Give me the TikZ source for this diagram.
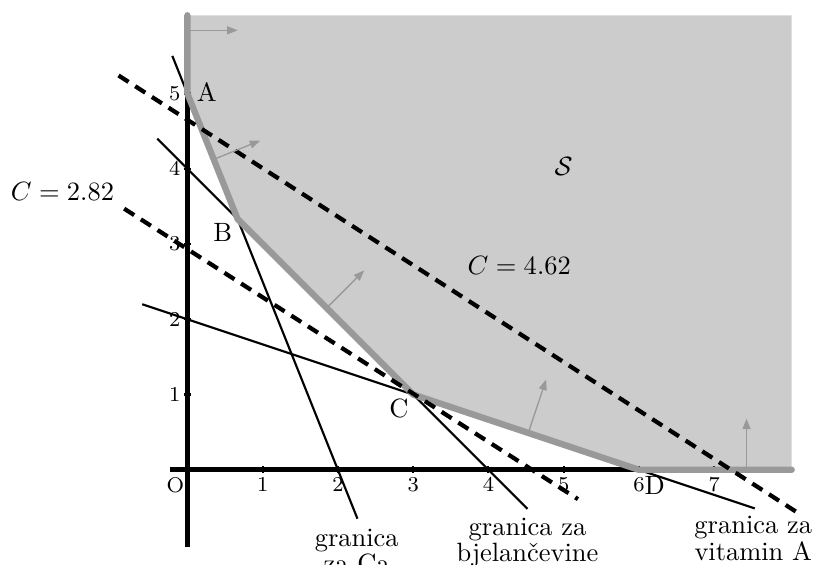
\documentclass[tikz,border=0pt]{standalone}
\usepackage{amsmath}
\usetikzlibrary{arrows.meta, positioning, calc}
\tikzset{
    os/.style={line width=1.9pt},
    pravac/.style={line width=0.8pt},
    rub/.style={draw=black!40, line width=2.4pt, line cap=round, line join=round},
    razina/.style={line width=1.6pt, dash pattern=on 4.5pt off 3pt},
    normala/.style={-{Triangle[length=4pt, width=3pt]}, draw=black!40, fill=black!40, line width=0.5pt},
    oznaka/.style={font=\footnotesize, inner sep=1pt},
    opis/.style={align=center, font=\fontsize{10}{8.7}\selectfont, inner sep=0pt, anchor=north}
}

\begin{document}
\begin{tikzpicture}
    \useasboundingbox (-2.49,-1.265) rectangle (8.34,6.243);

    \coordinate (O) at (0,0);
    \coordinate (A) at (0,5);
    \coordinate (B) at (2/3,10/3);
    \coordinate (C) at (3,1);
    \coordinate (D) at (6,0);
    \coordinate (vrh) at (0,6.04);
    \coordinate (desno) at (8.03,0);
    \coordinate (xlijevo) at (-0.23,0);
    \coordinate (ydolje) at (0,-1.03);

    \fill[black!20] (vrh) -- (A) -- (B) -- (C) -- (D) -- (desno) |- (vrh) -- cycle;

    \coordinate (ca1) at (-0.2,5.5);
    \coordinate (ca2) at (2.26,-0.65);
    \coordinate (bj1) at (-0.4,4.4);
    \coordinate (bj2) at (4.52,-0.52);
    \coordinate (va1) at (-0.6,2.2);
    \coordinate (va2) at (7.54,-0.513);

    \draw[pravac] (ca1) -- (ca2);
    \draw[pravac] (bj1) -- (bj2);
    \draw[pravac] (va1) -- (va2);

    \draw[os] (xlijevo) -- (desno);
    \draw[os] (ydolje) -- (vrh);

    \foreach \i in {1,...,7} {
        \draw[pravac] (\i,-0.045) -- (\i,0.045);
        \node[oznaka, anchor=north] (x\i) at (\i,-0.06) {\i};
    }
    \foreach \j in {1,...,5} {
        \draw[pravac] (-0.05,\j) -- (0.05,\j);
        \node[oznaka, anchor=east] (y\j) at (-0.05,\j) {\j};
    }
    \node[oznaka, anchor=north] (nO) at (-0.16,-0.06) {O};

    \draw[rub] (vrh) -- (A) -- (B) -- (C) -- (D) -- (desno);

    \coordinate (mi1) at (-0.84,3.47);
    \coordinate (mi2) at (5.19,-0.39);
    \coordinate (ma1) at (-0.915,5.24);
    \coordinate (ma2) at (8.14,-0.59);
    \draw[razina] (mi1) -- (mi2);
    \draw[razina] (ma1) -- (ma2);

    \draw[normala] (0.04,5.84) -- ++(0.63,0);
    \draw[normala] (0.35,4.125) -- ++(0.62,0.25);
    \draw[normala] (1.85,2.15) -- ++(0.5,0.5);
    \draw[normala] (4.53,0.49) -- ++(0.237,0.71);
    \draw[normala] (7.43,0) -- ++(0,0.68);

    \node[anchor=west, inner sep=0pt] (nA) at (0.12,5.02) {A};
    \node (nB) at (0.47,3.16) {B};
    \node (nC) at (2.81,0.81) {C};
    \node (nD) at (6.21,-0.21) {D};
    \node (nS) at (5.0,4.03) {$\mathcal{S}$};
    \node (cmax) at (4.41,2.72) {$C=4.62$};
    \node (cmin) at (-1.66,3.70) {$C=2.82$};

    \node[opis] (gca) at (2.25,-0.775) {granica\\za Ca};
    \node[opis] (gbj) at (4.52,-0.632) {granica za\\bjelan\v{c}evine};
    \node[opis] (gva) at (7.52,-0.61) {granica za\\vitamin A};

\end{tikzpicture}
\end{document}
